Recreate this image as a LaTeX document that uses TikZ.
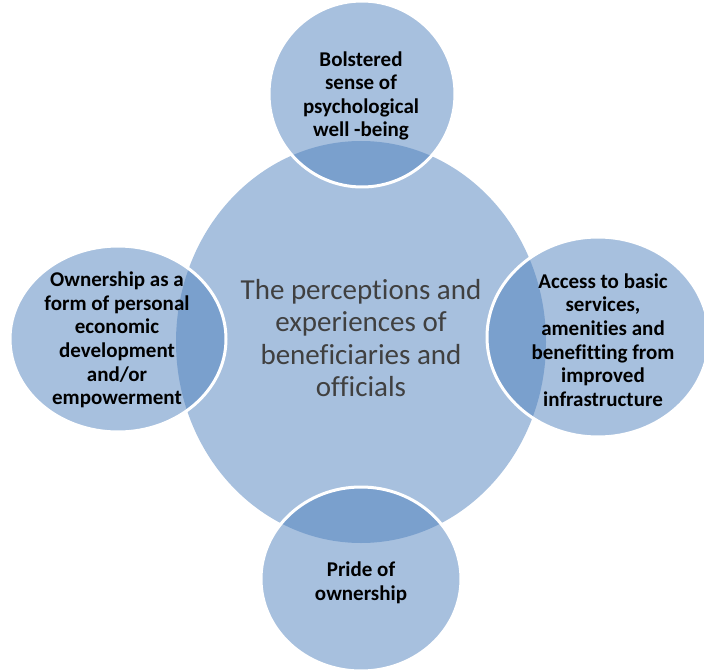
\documentclass[tikz,border=0pt]{standalone}
\usepackage{fontspec}
\setmainfont[Ligatures=CommonOff]{Carlito}
\usetikzlibrary{shapes.geometric}
\definecolor{accent}{HTML}{4F81BD}
\definecolor{hubtext}{HTML}{404040}
\begin{document}
\begin{tikzpicture}[x=1pt,y=-1pt,
  hub/.style={ellipse, fill=accent, fill opacity=0.5, draw=none, inner sep=0pt, outer sep=0pt},
  sat/.style={ellipse, fill=accent, fill opacity=0.5, draw=white, draw opacity=1, line width=3pt, inner sep=0pt, outer sep=0pt},
  satlabel/.style={font=\bfseries\fontsize{21}{23.6}\selectfont, align=center, text=black, inner sep=0pt},
  hublabel/.style={font=\fontsize{29}{32.3}\selectfont, align=center, text=hubtext, inner sep=0pt}]
\useasboundingbox (0,0) rectangle (704,671);
\node[hub, minimum width=370pt, minimum height=402pt] (hub) at (361,342) {};
\node[sat, minimum width=186pt, minimum height=186pt] (top) at (362,94) {};
\node[sat, minimum width=216pt, minimum height=186pt] (left) at (118,339) {};
\node[sat, minimum width=222pt, minimum height=200pt] (right) at (598,337) {};
\node[sat, minimum width=200pt, minimum height=184pt] (bottom) at (361,579) {};
\node[hublabel] (hubtext) at (361,338) {The perceptions and\\experiences of\\beneficiaries and\\officials};
\node[satlabel] (toptext) at (361,96) {Bolstered\\sense of\\psychological\\well -being};
\node[satlabel] (lefttext) at (117,340) {Ownership as a\\form of personal\\economic\\development\\and/or\\empowerment};
\node[satlabel] (righttext) at (603,340) {Access to basic\\services,\\amenities and\\benefitting from\\improved\\infrastructure};
\node[satlabel] (bottomtext) at (361,583) {Pride of\\ownership};
\end{tikzpicture}
\end{document}
